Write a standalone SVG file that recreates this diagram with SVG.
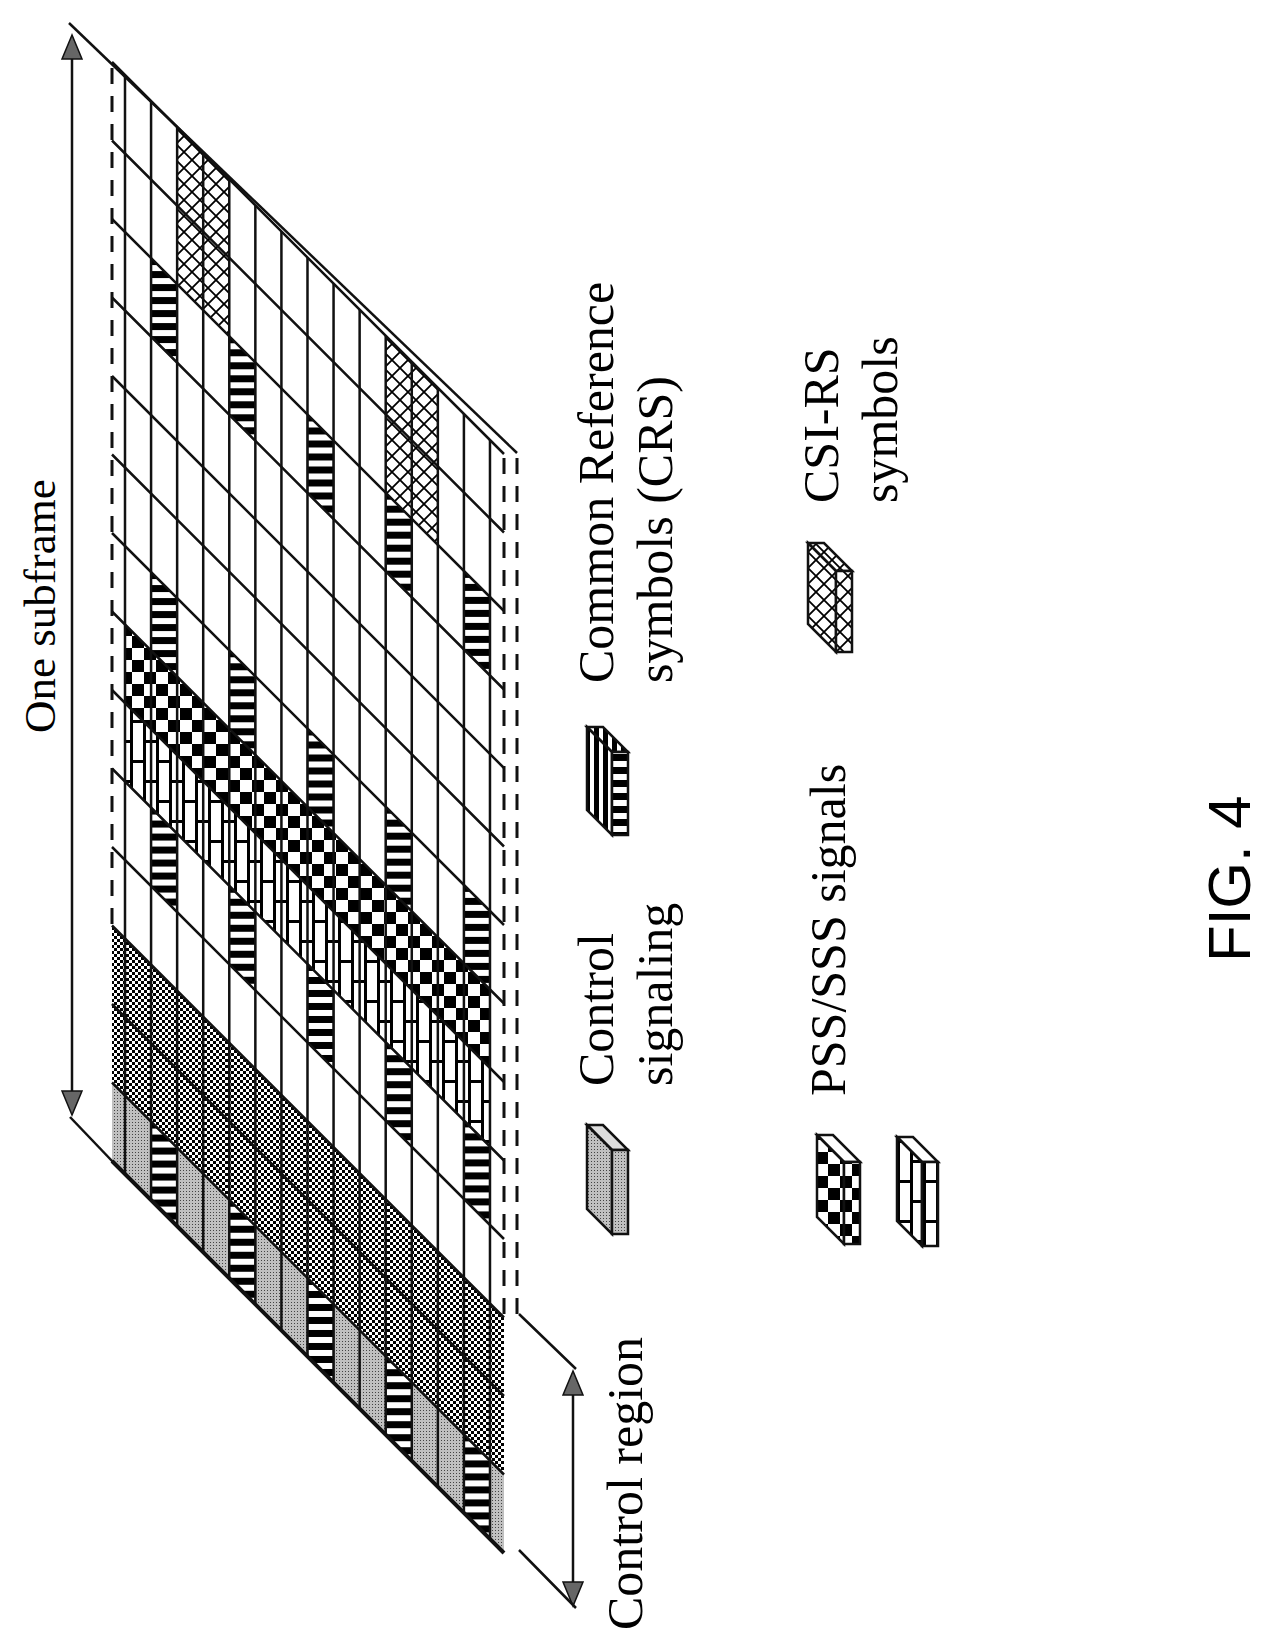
<svg xmlns="http://www.w3.org/2000/svg" xmlns:xlink="http://www.w3.org/1999/xlink" width="1280" height="1648" viewBox="0 0 1280 1648">
<style>
.ln{stroke:#111;stroke-width:2.5;fill:none}
.dash{stroke:#111;stroke-width:3;fill:none;stroke-dasharray:16 12}
.t{font-family:"Liberation Serif","Times New Roman",serif;font-size:50px;fill:#000}
.crs{fill:url(#stripesH);stroke:#111;stroke-width:1.5}
.ic{stroke:#111;stroke-width:2.5}
</style>
<defs>
<pattern id="stripesH" width="10" height="13" patternUnits="userSpaceOnUse"><rect width="10" height="13" fill="#fff"/><rect width="10" height="7" fill="#000"/></pattern>
<pattern id="stripesV" width="9" height="10" patternUnits="userSpaceOnUse"><rect width="9" height="10" fill="#fff"/><rect width="5" height="10" fill="#000"/></pattern>
<pattern id="checker" width="24" height="24" patternUnits="userSpaceOnUse"><rect width="24" height="24" fill="#fff"/><rect width="12" height="12" fill="#000"/><rect x="12" y="12" width="12" height="12" fill="#000"/></pattern>
<pattern id="brick" width="26" height="40" patternUnits="userSpaceOnUse"><rect width="26" height="40" fill="#fff"/><path d="M1.5 0V40M14.5 0V40M0 1.5H14M13 21.5H26" stroke="#000" stroke-width="3"/></pattern>
<pattern id="cross" width="16" height="16" patternUnits="userSpaceOnUse"><rect width="16" height="16" fill="#fff"/><path d="M0 0L16 16M16 0L0 16" stroke="#000" stroke-width="1.8"/></pattern>
<pattern id="dense" width="6" height="6" patternUnits="userSpaceOnUse"><rect width="6" height="6" fill="#fff"/><rect width="3" height="3" fill="#000"/><rect x="3" y="3" width="3" height="3" fill="#000"/></pattern>
<pattern id="gray" width="3" height="3" patternUnits="userSpaceOnUse"><rect width="3" height="3" fill="#c0c0c0"/><rect width="1" height="1" fill="#444"/></pattern>
<polygon id="cell" points="0,0 26.07,26.07 26.07,104.57 0,78.5"/>
</defs>

<g id="grid">
<polygon points="112,925.5 504,1317.5 504,1474.5 112,1082.5" fill="url(#dense)"/>
<polygon points="112,1082.5 504,1474.5 504,1553 112,1161" fill="url(#gray)"/>
<polygon points="125,624.5 489.98,989.48 489.98,1067.98 125,703" fill="url(#checker)"/>
<polygon points="125,703 489.98,1067.98 489.98,1146.48 125,781.5" fill="url(#brick)"/>
<polygon points="177.14,127.14 229.28,179.28 229.28,336.28 177.14,284.14" fill="url(#cross)"/>
<polygon points="385.7,335.7 437.84,387.84 437.84,544.84 385.7,492.7" fill="url(#cross)"/>
<g class="crs">
<use xlink:href="#cell" transform="translate(151.07,258.07)"/>
<use xlink:href="#cell" transform="translate(151.07,572.07)"/>
<use xlink:href="#cell" transform="translate(151.07,807.57)"/>
<use xlink:href="#cell" transform="translate(151.07,1121.57)"/>
<use xlink:href="#cell" transform="translate(229.28,336.28)"/>
<use xlink:href="#cell" transform="translate(229.28,650.28)"/>
<use xlink:href="#cell" transform="translate(229.28,885.78)"/>
<use xlink:href="#cell" transform="translate(229.28,1199.78)"/>
<use xlink:href="#cell" transform="translate(307.49,414.49)"/>
<use xlink:href="#cell" transform="translate(307.49,728.49)"/>
<use xlink:href="#cell" transform="translate(307.49,963.99)"/>
<use xlink:href="#cell" transform="translate(307.49,1277.99)"/>
<use xlink:href="#cell" transform="translate(385.7,492.7)"/>
<use xlink:href="#cell" transform="translate(385.7,806.7)"/>
<use xlink:href="#cell" transform="translate(385.7,1042.2)"/>
<use xlink:href="#cell" transform="translate(385.7,1356.2)"/>
<use xlink:href="#cell" transform="translate(463.91,570.91)"/>
<use xlink:href="#cell" transform="translate(463.91,884.91)"/>
<use xlink:href="#cell" transform="translate(463.91,1120.41)"/>
<use xlink:href="#cell" transform="translate(463.91,1434.41)"/>
</g>
<path class="ln" d="M125 75V1174M151.07 101.07V1200.07M177.14 127.14V1226.14M203.21 153.21V1252.21M229.28 179.28V1278.28M255.35 205.35V1304.35M281.42 231.42V1330.42M307.49 257.49V1356.49M333.56 283.56V1382.56M359.63 309.63V1408.63M385.7 335.7V1434.7M411.77 361.77V1460.77M437.84 387.84V1486.84M463.91 413.91V1512.91M489.98 439.98V1538.98"/>
<path class="ln" d="M112 62L504 454M112 140.5L504 532.5M112 219L504 611M112 297.5L504 689.5M112 376L504 768M112 454.5L504 846.5M112 533L504 925M112 611.5L504 1003.5M112 690L504 1082M112 768.5L504 1160.5M112 847L504 1239M112 925.5L504 1317.5M112 1004L504 1396M112 1082.5L504 1474.5"/>
<path d="M112 1161L504 1553" stroke="#111" stroke-width="4"/>
<path class="ln" d="M69 23L517 453"/>
<path class="dash" d="M112 68V925M504 458V1317M517 458V1317"/>
</g>

<g id="connectors">
<path class="ln" d="M72 58V1092"/>
<path d="M72 35l-10 24h20z M72 1115l-10 -24h20z" fill="#666" stroke="#111" stroke-width="1.5"/>
<path class="ln" d="M70 1117L113 1162"/>
<path class="ln" d="M573 1395V1582"/>
<path d="M573 1371l-10 24h20z M573 1606l-10 -24h20z" fill="#666" stroke="#111" stroke-width="1.5"/>
<path class="ln" d="M519 1314L576 1369M519 1550L576 1608"/>
</g>

<g id="labels">
<text class="t" transform="translate(55,733) rotate(-90)" style="font-size:45px">One subframe</text>
<text class="t" transform="translate(642,1630) rotate(-90)">Control region</text>
<text class="t" transform="translate(613,1086) rotate(-90)">Control</text>
<text class="t" transform="translate(672,1086) rotate(-90)">signaling</text>
<text class="t" transform="translate(613,683) rotate(-90)">Common Reference</text>
<text class="t" transform="translate(672,683) rotate(-90)">symbols (CRS)</text>
<text class="t" transform="translate(845,1096) rotate(-90)">PSS/SSS signals</text>
<text class="t" transform="translate(838,503) rotate(-90)">CSI-RS</text>
<text class="t" transform="translate(897,503) rotate(-90)">symbols</text>
<text transform="translate(1250,962) rotate(-90)" style="font-family:'Liberation Sans',Arial,sans-serif;font-size:60px">FIG. 4</text>
</g>

<g id="legend-control" class="ic">
<polygon points="587,1125 603,1125 628,1150 612,1150" fill="#ddd"/>
<polygon points="587,1125 612,1150 612,1234 587,1209" fill="url(#gray)"/>
<polygon points="612,1150 628,1150 628,1234 612,1234" fill="url(#gray)"/>
</g>
<g id="legend-crs" class="ic">
<polygon points="587,727 603,727 628,752 612,752" fill="url(#stripesV)"/>
<polygon points="587,727 612,752 612,835 587,810" fill="url(#stripesV)"/>
<polygon points="612,752 628,752 628,835 612,835" fill="url(#stripesH)"/>
</g>
<g id="legend-csi" class="ic">
<polygon points="808,543 824,543 852,571 836,571" fill="url(#cross)"/>
<polygon points="808,543 836,571 836,652 808,624" fill="url(#cross)"/>
<polygon points="836,571 852,571 852,652 836,652" fill="url(#cross)"/>
</g>
<g id="legend-pss" class="ic">
<polygon points="817,1135 833,1135 860,1162 844,1162" fill="#fff"/>
<polygon points="817,1135 844,1162 844,1244 817,1217" fill="url(#checker)"/>
<polygon points="844,1162 860,1162 860,1244 844,1244" fill="url(#checker)"/>
</g>
<g id="legend-sss" class="ic">
<polygon points="897,1137 913,1137 938,1162 922,1162" fill="#fff"/>
<polygon points="897,1137 922,1162 922,1246 897,1221" fill="url(#brick)"/>
<polygon points="922,1162 938,1162 938,1246 922,1246" fill="url(#brick)"/>
</g>
</svg>
